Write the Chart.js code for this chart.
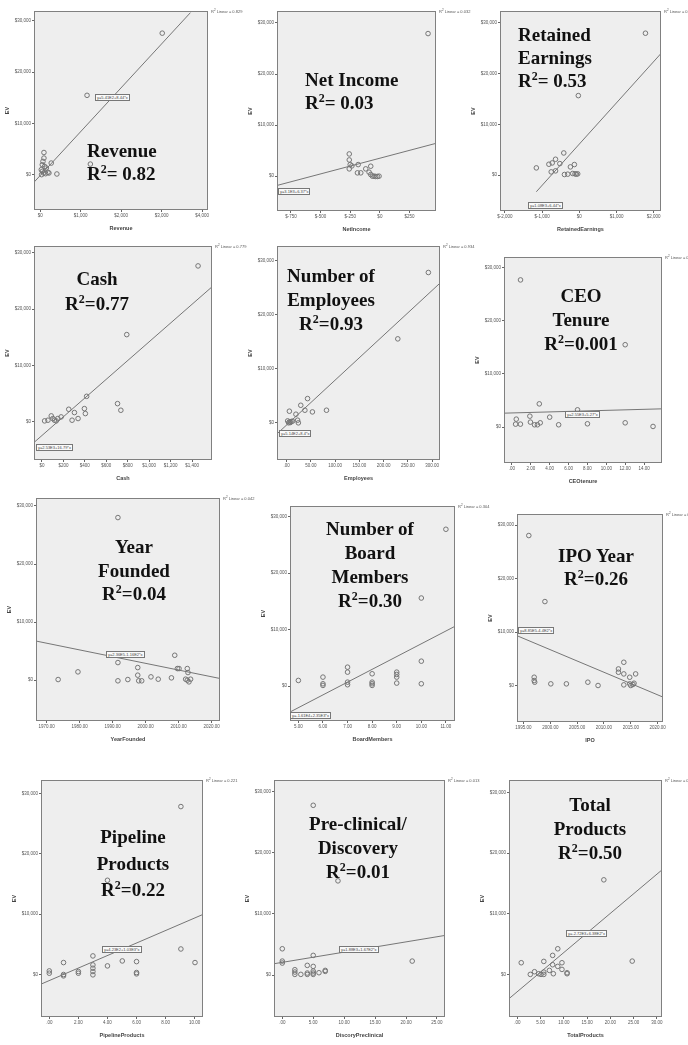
<!DOCTYPE html>
<html>
<head>
<meta charset="utf-8">
<script src="https://cdn.jsdelivr.net/npm/chart.js@4.4.1/dist/chart.umd.min.js"></script>
<style>
body { margin: 0; background: #fff; width: 688px; height: 1045px; position: relative; overflow: hidden; font-family: "Liberation Sans", Arial, sans-serif; }
canvas { position: absolute; }
.ttl { position: absolute; font-family: "Liberation Serif", "Times New Roman", serif; font-weight: bold; font-size: 19px; color: #111; white-space: nowrap; }
.ttl .sq { font-size: 12px; position: relative; top: -7px; }
.eq { position: absolute; border: 1px solid #777; background: #fafafa; font-size: 4px; line-height: 5px; color: #444; padding: 0 1px; white-space: nowrap; }
.leg { position: absolute; font-size: 4px; color: #555; white-space: nowrap; }
</style>
</head>
<body>
<script>
// EV is in $ millions, same y ticks on every panel
const yTicks = [0, 10000, 20000, 30000];
const yLabels = ['$0', '$10,000', '$20,000', '$30,000'];

// Revenue
const revenueX = [3016, 1156, 1238, 410, 90, 90, 66, 49, 107, 148, 25, 49, 82, 131, 189, 270, 33, 213];
const revenueY = [27610, 15480, 2060, 130, 4320, 3230, 2580, 1935, 1610, 1290, 970, 645, 320, 190, 450, 2260, 0, 320];
const revenueFitX = [-156, 3713];
const revenueFitY = [-1480, 31610];
const revenueTicks = [0, 1000, 2000, 3000, 4000];
const revenueLabels = ['$0', '$1,000', '$2,000', '$3,000', '$4,000'];

// Net income
const incomeX = [406, -258, -258, -250, -236, -258, -183, -189, -161, -119, -77, -91, -77, -63, -49, -35, -21, -7];
const incomeY = [27920, 4350, 3180, 2270, 2010, 1430, 2270, 650, 650, 1430, 1950, 780, 320, 0, 0, -60, -60, 0];
const incomeFitX = [-867, 473];
const incomeFitY = [-1820, 6430];
const incomeTicks = [-750, -500, -250, 0, 250];
const incomeLabels = ['$-750', '$-500', '$-250', '$0', '$250'];

// Retained earnings
const retainedX = [-1156, -818, -729, -640, -524, -418, -756, -640, -400, -311, -240, -133, -178, -116, -80, -44, -27, 1778];
const retainedY = [1435, 2150, 2410, 3130, 2280, 4370, 650, 850, 130, 200, 1630, 2090, 330, 260, 200, 260, 15650, 27920];
const retainedFitX = [-1156, 2196];
const retainedFitY = [-3260, 23940];
const retainedTicks = [-2000, -1000, 0, 1000, 2000];
const retainedLabels = ['$-2,000', '$-1,000', '$0', '$1,000', '$2,000'];

// Cash
const cashX = [1456, 791, 705, 736, 417, 396, 405, 337, 303, 250, 281, 179, 148, 117, 87, 56, 25, 102, 133];
const cashY = [27650, 15470, 3235, 2060, 4530, 2350, 1470, 590, 1650, 2235, 294, 880, 590, 294, 1060, 294, 176, 590, 176];
const cashFitX = [-74, 1586];
const cashFitY = [-3650, 23940];
const cashTicks = [0, 200, 400, 600, 800, 1000, 1200, 1400];
const cashLabels = ['$0', '$200', '$400', '$600', '$800', '$1,000', '$1,200', '$1,400'];

// Employees
const employeesX = [292, 229, 43, 29, 37.5, 53, 82, 5.5, 19, 22.5, 24, 2, 5.5, 9, 12, 4, 7.5];
const employeesY = [27850, 15530, 4440, 3200, 2280, 1970, 2280, 2100, 1540, 430, -60, 300, 120, 180, 250, -60, 0];
const employeesFitX = [-20, 316];
const employeesFitY = [-2110, 25880];
const employeesTicks = [0, 50, 100, 150, 200, 250, 300];
const employeesLabels = ['.00', '50.00', '100.00', '150.00', '200.00', '250.00', '300.00'];

// CEO tenure
const tenureX = [0.91, 12, 2.9, 0.46, 0.39, 0.9, 1.9, 1.96, 2.4, 2.7, 3.0, 4.0, 4.95, 6.95, 8.0, 12.0, 14.95];
const tenureY = [27690, 15500, 4375, 1500, 560, 560, 2060, 940, 440, 440, 810, 1875, 440, 3250, 625, 810, 125];
const tenureFitX = [-0.84, 15.9];
const tenureFitY = [2625, 3440];
const tenureTicks = [0, 2, 4, 6, 8, 10, 12, 14];
const tenureLabels = ['.00', '2.00', '4.00', '6.00', '8.00', '10.00', '12.00', '14.00'];

// Year founded
const foundedX = [1991.6, 1973.5, 1979.5, 1991.6, 1991.6, 1994.6, 1997.6, 1997.6, 1997.9, 1998.8, 2001.6, 2003.8, 2007.8, 2008.8, 2009.6, 2010.1, 2012.6, 2012.8, 2012.6, 2013.6, 2012.1, 2013.1];
const foundedY = [28000, 110, 1430, 3030, -110, 110, 2170, 860, -110, -110, 570, 170, 400, 4290, 2000, 2000, 2000, 1310, 0, 170, 170, -290];
const foundedFitX = [1966.8, 2022.5];
const foundedFitY = [6740, 290];
const foundedTicks = [1970, 1980, 1990, 2000, 2010, 2020];
const foundedLabels = ['1970.00', '1980.00', '1990.00', '2000.00', '2010.00', '2020.00'];

// Board members
const boardX = [11, 10, 10, 10, 5, 6, 6, 6, 7, 7, 7, 7, 8, 8, 8, 8, 9, 9, 9, 9];
const boardY = [27760, 15590, 4410, 410, 1000, 1590, 410, 120, 3350, 2470, 700, 240, 2180, 700, 410, 120, 2470, 2060, 1590, 530];
const boardFitX = [4.66, 11.37];
const boardFitY = [-4590, 10590];
const boardTicks = [5, 6, 7, 8, 9, 10, 11];
const boardLabels = ['5.00', '6.00', '7.00', '8.00', '9.00', '10.00', '11.00'];

// IPO year
const ipoX = [1996.0, 1999.0, 1997.0, 1997.0, 1997.1, 2000.1, 2003.0, 2007.0, 2008.9, 2012.7, 2012.7, 2013.7, 2013.7, 2013.7, 2014.8, 2014.8, 2015.0, 2015.6, 2015.9, 2015.4];
const ipoY = [28070, 15710, 1550, 930, 620, 310, 310, 620, 0, 3100, 2480, 4350, 2170, 120, 1550, 310, 0, 430, 2170, 190];
const ipoFitX = [1993.8, 2021];
const ipoFitY = [9320, -2170];
const ipoTicks = [1995, 2000, 2005, 2010, 2015, 2020];
const ipoLabels = ['1995.00', '2000.00', '2005.00', '2010.00', '2015.00', '2020.00'];

// Pipeline products
const pipelineX = [9.05, 4, 9.05, 10.02, 0, 0, 0.98, 0.98, 0.98, 2, 2, 3, 3, 3, 3, 3, 4, 5.02, 6, 6, 6];
const pipelineY = [27800, 15600, 4230, 1980, 600, 220, 1980, 0, -220, 500, 220, 3080, 1590, 1040, 500, -50, 1430, 2250, 2140, 330, 110];
const pipelineFitX = [-0.57, 10.57];
const pipelineFitY = [-1590, 9950];
const pipelineTicks = [0, 2, 4, 6, 8, 10];
const pipelineLabels = ['.00', '2.00', '4.00', '6.00', '8.00', '10.00'];

// Pre-clinical / discovery
const discoveryX = [5, 9, 0, 0, 0, 2.03, 2.03, 2.03, 3, 4.04, 4.04, 4.04, 5, 5, 5, 5, 5, 5.93, 6.94, 6.94, 21];
const discoveryY = [27720, 15380, 4290, 2280, 1960, 870, 490, 110, 110, 1580, 330, 110, 3210, 1410, 650, 330, 110, 380, 760, 600, 2280];
const discoveryFitX = [-1.34, 26.3];
const discoveryFitY = [1850, 6470];
const discoveryTicks = [0, 5, 10, 15, 20, 25];
const discoveryLabels = ['.00', '5.00', '10.00', '15.00', '20.00', '25.00'];

// Total products
const totalX = [18.6, 24.7, 0.85, 8.7, 7.6, 5.7, 7.6, 8.7, 9.6, 9.6, 10.7, 10.7, 2.8, 3.7, 4.6, 5.1, 5.7, 5.7, 6.9, 7.75];
const totalY = [15580, 2190, 1920, 4220, 3130, 2140, 1590, 1320, 1920, 820, 270, 110, 0, 440, 110, 0, 380, 0, 660, 110];
const totalFitX = [-1.78, 31.1];
const totalFitY = [-4000, 17220];
const totalTicks = [0, 5, 10, 15, 20, 25, 30];
const totalLabels = ['.00', '5.00', '10.00', '15.00', '20.00', '25.00', '30.00'];

// layout of the 12 panels: box = plot area [left, top, right, bottom] in page px
const panels = [
  { x: revenueX, y: revenueY, fx: revenueFitX, fy: revenueFitY, ticks: revenueTicks, labels: revenueLabels, xr: [-156, 4148], yr: [-6900, 31935], box: [34, 10, 209, 210], xTitle: 'Revenue', r2: '0.829', eq: 'y=5.41E2+8.44*x', eqAt: [95, 94], title: ['Revenue', 'R<span class="sq">2</span>= 0.82'], tAt: [87, 139, 23, 'left'] },
  { x: incomeX, y: incomeY, fx: incomeFitX, fy: incomeFitY, ticks: incomeTicks, labels: incomeLabels, xr: [-867, 473], yr: [-6820, 32340], box: [277, 10, 437, 211], xTitle: 'NetIncome', r2: '0.032', eq: 'y=3.1E3+6.37*x', eqAt: [278, 188], title: ['Net Income', 'R<span class="sq">2</span>= 0.03'], tAt: [305, 68, 23, 'left'] },
  { x: retainedX, y: retainedY, fx: retainedFitX, fy: retainedFitY, ticks: retainedTicks, labels: retainedLabels, xr: [-2133, 2196], yr: [-7045, 32290], box: [500, 10, 662, 211], xTitle: 'RetainedEarnings', r2: '0.534', eq: 'y=1.08E3+6.44*x', eqAt: [528, 202], title: ['Retained', 'Earnings', 'R<span class="sq">2</span>= 0.53'], tAt: [518, 23, 23, 'left'] },
  { x: cashX, y: cashY, fx: cashFitX, fy: cashFitY, ticks: cashTicks, labels: cashLabels, xr: [-74, 1586], yr: [-6760, 31180], box: [34, 245, 213, 460], xTitle: 'Cash', r2: '0.779', eq: 'y=2.53E3+16.79*x', eqAt: [36, 444], title: ['Cash', 'R<span class="sq">2</span>=0.77'], tAt: [97, 266, 25, 'center'] },
  { x: employeesX, y: employeesY, fx: employeesFitX, fy: employeesFitY, ticks: employeesTicks, labels: employeesLabels, xr: [-20, 316], yr: [-6960, 32770], box: [277, 245, 441, 460], xTitle: 'Employees', r2: '0.934', eq: 'y=5.14E2+8.4*x', eqAt: [279, 430], title: ['Number of', 'Employees', 'R<span class="sq">2</span>=0.93'], tAt: [331, 264, 24, 'center'] },
  { x: tenureX, y: tenureY, fx: tenureFitX, fy: tenureFitY, ticks: tenureTicks, labels: tenureLabels, xr: [-0.84, 15.9], yr: [-6750, 32000], box: [504, 256, 663, 463], xTitle: 'CEOtenure', r2: '0.001', eq: 'y=2.55E3+5.27*x', eqAt: [565, 411], title: ['CEO', 'Tenure', 'R<span class="sq">2</span>=0.001'], tAt: [581, 284, 24, 'center'] },
  { x: foundedX, y: foundedY, fx: foundedFitX, fy: foundedFitY, ticks: foundedTicks, labels: foundedLabels, xr: [1966.8, 2022.5], yr: [-7030, 31370], box: [36, 497, 221, 721], xTitle: 'YearFounded', r2: '0.042', eq: 'y=2.36E5-1.16E2*x', eqAt: [106, 651], title: ['Year', 'Founded', 'R<span class="sq">2</span>=0.04'], tAt: [134, 535, 23.5, 'center'] },
  { x: boardX, y: boardY, fx: boardFitX, fy: boardFitY, ticks: boardTicks, labels: boardLabels, xr: [4.66, 11.37], yr: [-6180, 31880], box: [290, 505, 456, 721], xTitle: 'BoardMembers', r2: '0.304', eq: 'y=-1.61E4+2.35E3*x', eqAt: [290, 712], title: ['Number of', 'Board', 'Members', 'R<span class="sq">2</span>=0.30'], tAt: [370, 517, 24, 'center'] },
  { x: ipoX, y: ipoY, fx: ipoFitX, fy: ipoFitY, ticks: ipoTicks, labels: ipoLabels, xr: [1993.8, 2021], yr: [-6830, 32100], box: [517, 513, 664, 722], xTitle: 'IPO', r2: '0.261', eq: 'y=8.85E5-4.4E2*x', eqAt: [518, 627], title: ['IPO Year', 'R<span class="sq">2</span>=0.26'], tAt: [596, 544, 23, 'center'] },
  { x: pipelineX, y: pipelineY, fx: pipelineFitX, fy: pipelineFitY, ticks: pipelineTicks, labels: pipelineLabels, xr: [-0.57, 10.57], yr: [-7030, 32200], box: [41, 779, 204, 1017], xTitle: 'PipelineProducts', r2: '0.221', eq: 'y=4.23E2+1.03E3*x', eqAt: [102, 946], title: ['Pipeline', 'Products', 'R<span class="sq">2</span>=0.22'], tAt: [133, 824, 26.5, 'center'] },
  { x: discoveryX, y: discoveryY, fx: discoveryFitX, fy: discoveryFitY, ticks: discoveryTicks, labels: discoveryLabels, xr: [-1.34, 26.3], yr: [-6850, 31850], box: [274, 779, 446, 1017], xTitle: 'DiscoryPreclinical', r2: '0.013', eq: 'y=1.88E3+1.67E2*x', eqAt: [339, 946], title: ['Pre-clinical/', 'Discovery', 'R<span class="sq">2</span>=0.01'], tAt: [358, 812, 24, 'center'] },
  { x: totalX, y: totalY, fx: totalFitX, fy: totalFitY, ticks: totalTicks, labels: totalLabels, xr: [-1.78, 31.1], yr: [-7020, 32030], box: [509, 779, 663, 1017], xTitle: 'TotalProducts', r2: '0.503', eq: 'y=-2.72E3+6.38E2*x', eqAt: [566, 930], title: ['Total', 'Products', 'R<span class="sq">2</span>=0.50'], tAt: [590, 793, 24, 'center'] }
];

// grey plot area with a frame, like the SPSS output
const plotBox = {
  id: 'plotBox',
  beforeDraw(chart) {
    const a = chart.chartArea, ctx = chart.ctx;
    ctx.save();
    ctx.fillStyle = '#eeeeee';
    ctx.fillRect(a.left, a.top, a.right - a.left, a.bottom - a.top);
    ctx.restore();
  },
  afterDraw(chart) {
    const a = chart.chartArea, ctx = chart.ctx;
    ctx.save();
    ctx.strokeStyle = '#808080';
    ctx.lineWidth = 1;
    ctx.strokeRect(a.left + 0.5, a.top + 0.5, a.right - a.left - 1, a.bottom - a.top - 1);
    ctx.restore();
  }
};

function addDiv(cls, html, left, top) {
  const d = document.createElement('div');
  d.className = cls;
  d.innerHTML = html;
  d.style.left = left + 'px';
  d.style.top = top + 'px';
  document.body.appendChild(d);
  return d;
}

function makePanel(p) {
  const padL = 30, padT = 4, padR = 4, padB = 22;
  const bw = p.box[2] - p.box[0], bh = p.box[3] - p.box[1];
  const cv = document.createElement('canvas');
  cv.width = bw + padL + padR;
  cv.height = bh + padT + padB;
  cv.style.left = (p.box[0] - padL) + 'px';
  cv.style.top = (p.box[1] - padT) + 'px';
  document.body.appendChild(cv);

  new Chart(cv, {
    type: 'scatter',
    data: {
      datasets: [
        {
          data: p.x.map((v, i) => ({ x: v, y: p.y[i] })),
          pointStyle: 'circle',
          pointRadius: 2.3,
          borderColor: '#767676',
          backgroundColor: 'rgba(0,0,0,0)',
          borderWidth: 1
        },
        {
          type: 'line',
          data: p.fx.map((v, i) => ({ x: v, y: p.fy[i] })),
          borderColor: '#767676',
          borderWidth: 1,
          pointRadius: 0,
          fill: false
        }
      ]
    },
    options: {
      responsive: false,
      animation: false,
      events: [],
      layout: { padding: { top: padT, right: padR, left: 0, bottom: 0 } },
      plugins: { legend: { display: false }, tooltip: { enabled: false } },
      scales: {
        x: {
          type: 'linear',
          min: p.xr[0],
          max: p.xr[1],
          afterFit: s => { s.height = padB; },
          afterBuildTicks: s => { s.ticks = p.ticks.map(v => ({ value: v })); },
          ticks: { callback: (v, i) => p.labels[i], font: { size: 4.5 }, color: '#555', padding: 1, maxRotation: 0, autoSkip: false },
          grid: { drawOnChartArea: false, tickLength: 2, color: '#666' },
          border: { display: false },
          title: { display: true, text: p.xTitle, font: { size: 5.5, weight: 'bold' }, color: '#444', padding: 0 }
        },
        y: {
          type: 'linear',
          min: p.yr[0],
          max: p.yr[1],
          afterFit: s => { s.width = padL; },
          afterBuildTicks: s => { s.ticks = yTicks.map(v => ({ value: v })); },
          ticks: { callback: (v, i) => yLabels[i], font: { size: 4.5 }, color: '#555', padding: 1, autoSkip: false },
          grid: { drawOnChartArea: false, tickLength: 2, color: '#666' },
          border: { display: false },
          title: { display: true, text: 'EV', font: { size: 5.5, weight: 'bold' }, color: '#444', padding: 0 }
        }
      }
    },
    plugins: [plotBox]
  });

  // fit legend, equation box and the big overlay title
  addDiv('leg', 'R<sup style="font-size:3px">2</sup> Linear = ' + p.r2, p.box[2] + 2, p.box[1] - 2);
  addDiv('eq', p.eq, p.eqAt[0], p.eqAt[1]);
  const t = p.tAt;
  const d = addDiv('ttl', p.title.join('<br>'), t[3] === 'left' ? t[0] : t[0] - 80, t[1]);
  d.style.lineHeight = t[2] + 'px';
  d.style.textAlign = t[3];
  if (t[3] === 'center') d.style.width = '160px';
}

panels.forEach(makePanel);
</script>
</body>
</html>
